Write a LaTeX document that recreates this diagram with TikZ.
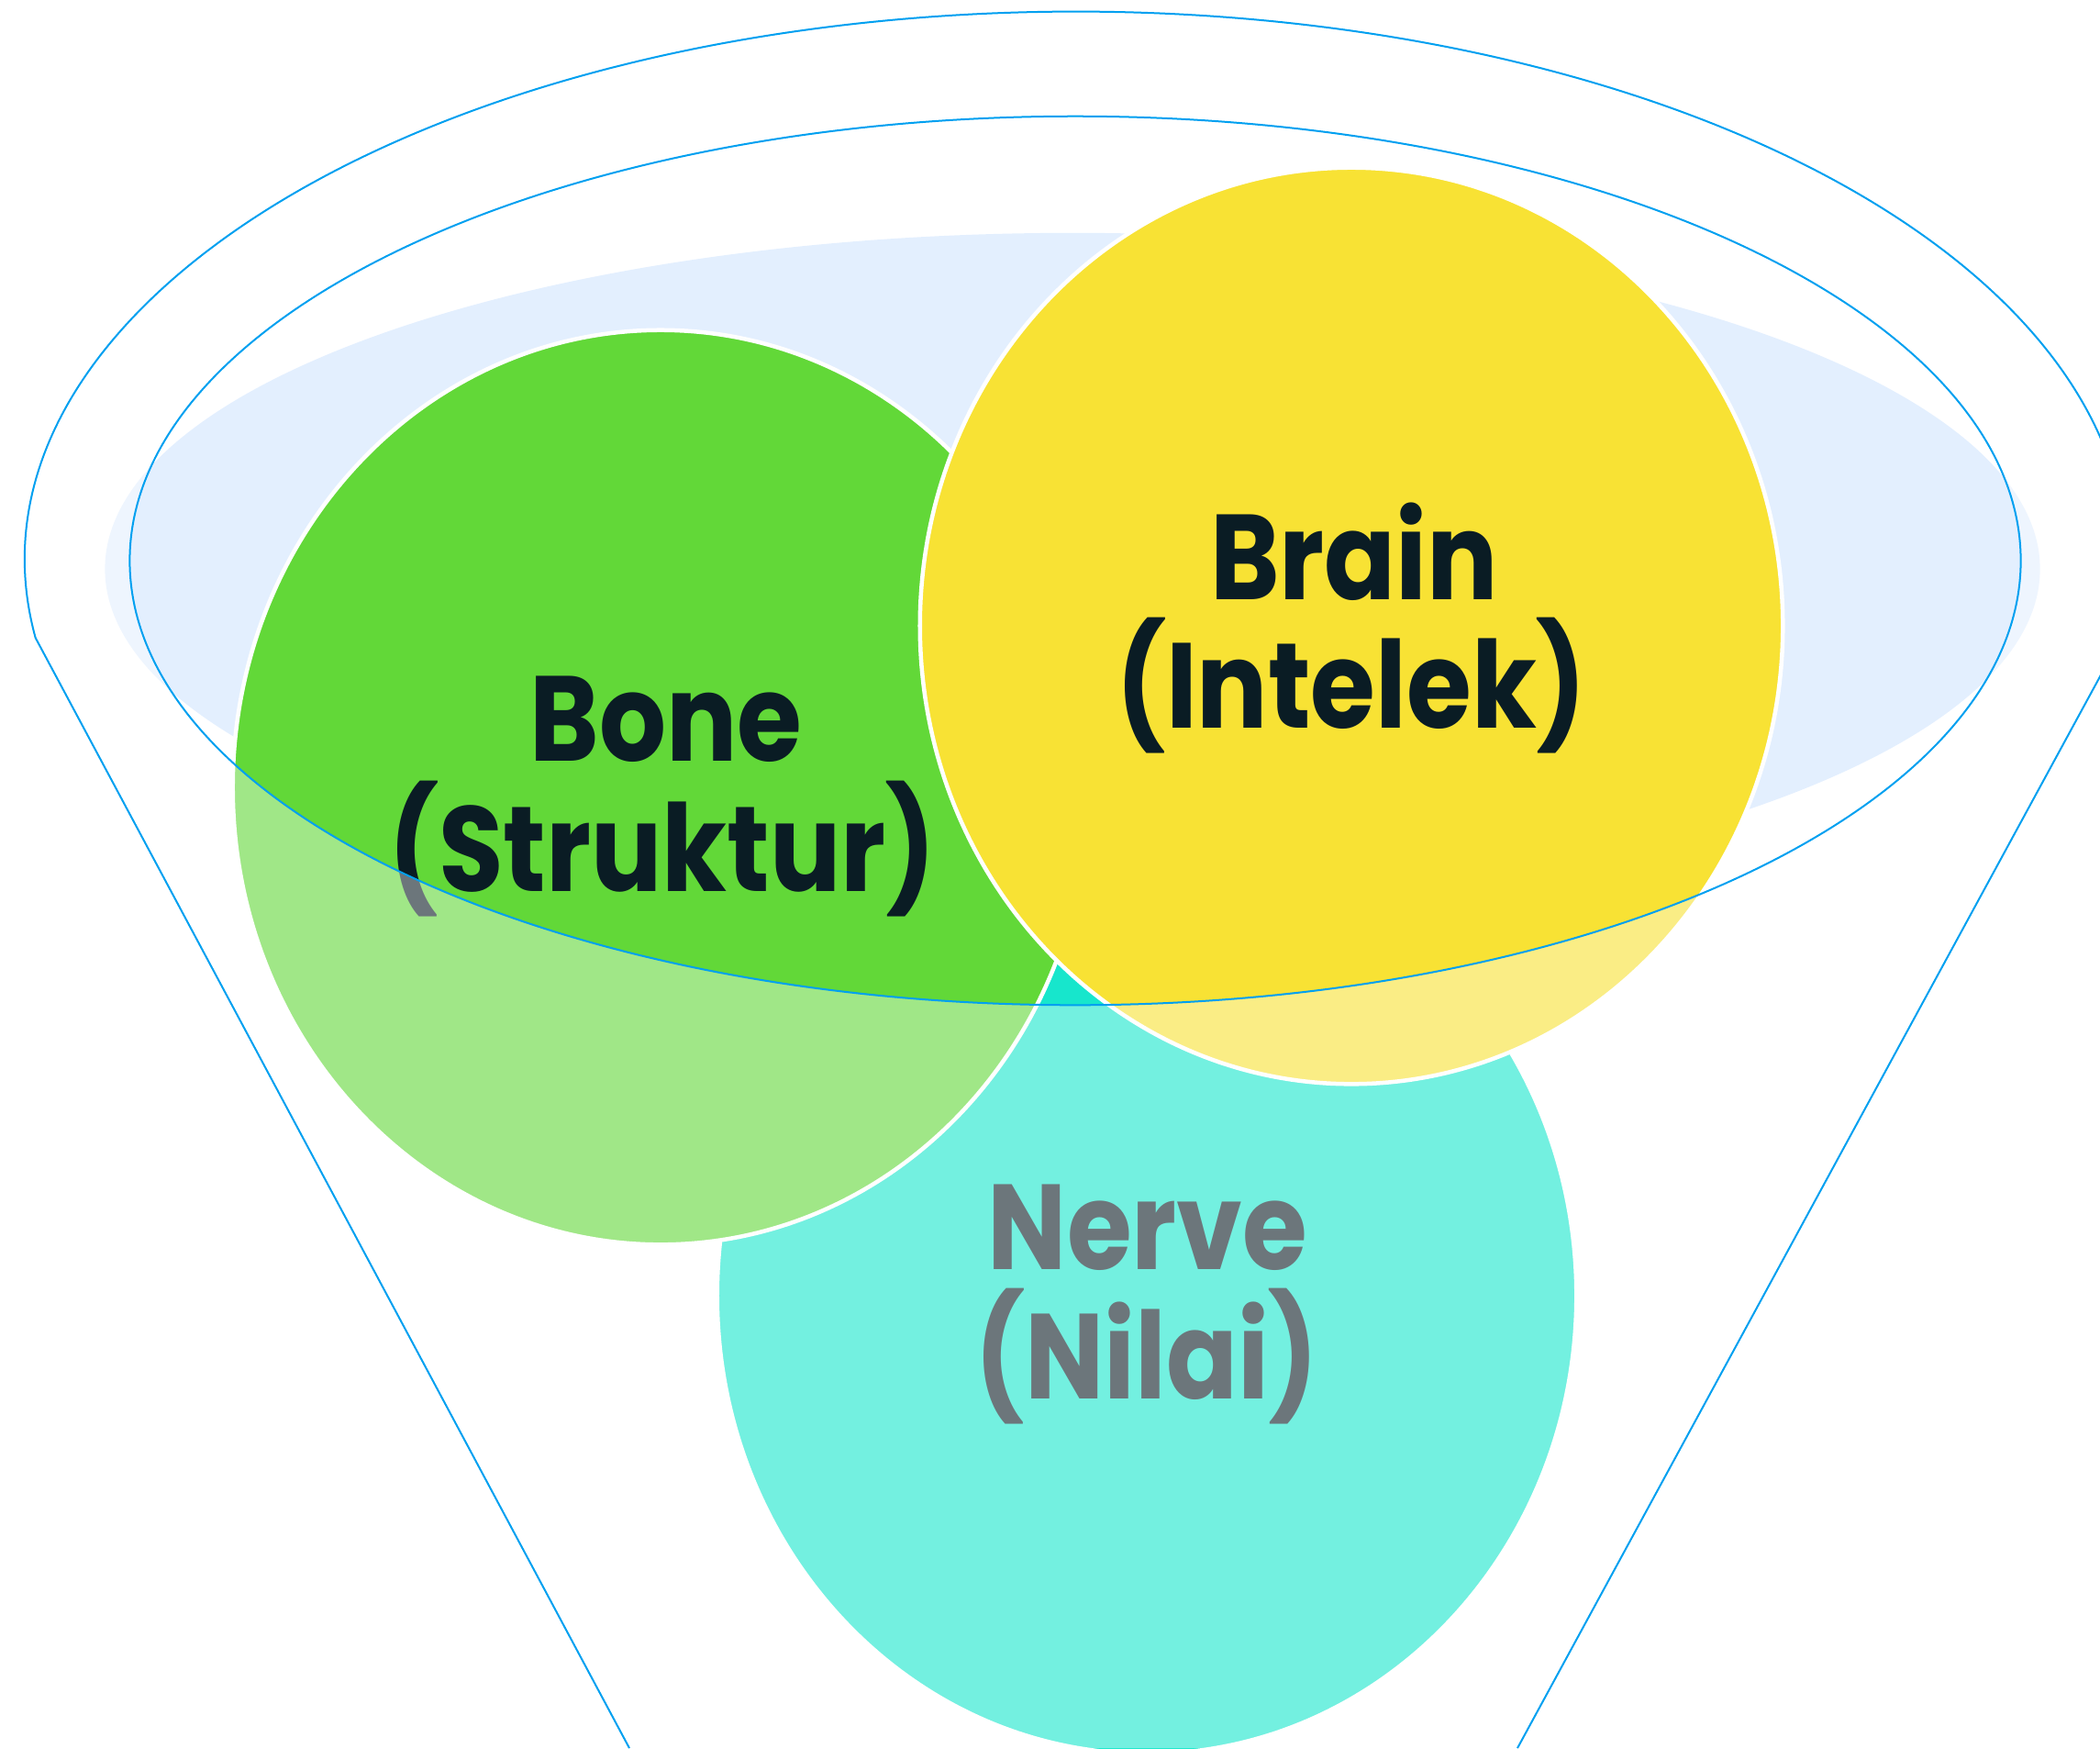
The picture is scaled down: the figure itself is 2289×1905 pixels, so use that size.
\documentclass[tikz,border=0pt]{standalone}
\usepackage{fontspec}
\newfontfamily\lblfont{Poppins}[FakeStretch=0.87]
\definecolor{funnelblue}{HTML}{00A0F0}
\definecolor{paleblue}{HTML}{E3EFFE}
\definecolor{bonegreen}{HTML}{62D838}
\definecolor{brainyellow}{HTML}{F8E234}
\definecolor{nervecyan}{HTML}{17E6CC}
\definecolor{labeldark}{HTML}{0A1C24}
\tikzset{
  blob/.style={line width=0.045cm, draw=white},
  lbl/.style={font=\lblfont\bfseries\fontsize{37.5}{40}\selectfont, text=labeldark, inner sep=0pt, anchor=base},
  funnelline/.style={draw=funnelblue, line width=0.02cm, line join=round}
}
\begin{document}
\begin{tikzpicture}[x=0.01cm, y=-0.01cm]
\useasboundingbox (0,0) rectangle (2289,1905);
% pale background ellipse
\fill[paleblue] (1169,620) ellipse [x radius=10.54cm, y radius=3.66cm];
% circles
\path[blob, fill=nervecyan] (1250,1412) ellipse [x radius=4.68cm, y radius=4.99cm];
\path[blob, fill=bonegreen] (720,858) ellipse [x radius=4.66cm, y radius=4.98cm];
\path[blob, fill=brainyellow] (1473,682) ellipse [x radius=4.70cm, y radius=4.99cm];
% labels
\node[lbl] (bone1) at (726,829) {Bone};
\node[lbl] (bone2) at (722,971) {(Struktur)};
\node[lbl] (brain1) at (1476,653) {Brain};
\node[lbl] (brain2) at (1473,793) {(Intelek)};
\node[lbl] (nerve1) at (1251,1383) {Nerve};
\node[lbl] (nerve2) at (1250,1524) {(Nilai)};
% fade everything outside the inner ellipse
\fill[white, opacity=0.4, even odd rule] (0,0) rectangle (2289,1905)
  (1172,611) ellipse [x radius=10.30cm, y radius=4.84cm];
% inner rim
\draw[funnelline] (1172,611) ellipse [x radius=10.30cm, y radius=4.84cm];
% funnel outline
\coordinate (ljoint) at (38.7,695.1);
\coordinate (lbottom) at (686,1905);
\coordinate (rbottom) at (1654,1905);
\draw[funnelline] (lbottom) -- (ljoint)
  arc[start angle=188.2, end angle=-10.5, x radius=11.45cm, y radius=5.97cm]
  coordinate (rjoint) -- (rbottom);
\end{tikzpicture}
\end{document}
